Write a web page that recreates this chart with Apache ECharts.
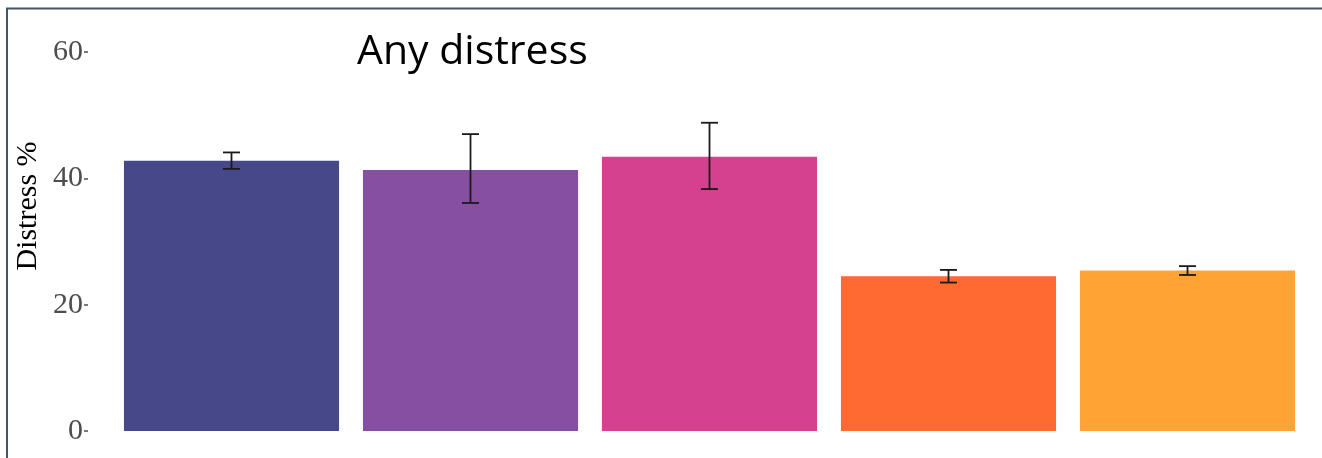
<!DOCTYPE html>
<html>
<head>
<meta charset="utf-8">
<title>Any distress</title>
<script src="https://cdn.jsdelivr.net/npm/echarts@6/dist/echarts.min.js"></script>
<style>
  html, body { margin: 0; padding: 0; background: #ffffff; }
  #chart { width: 1322px; height: 458px; }
</style>
</head>
<body>
<div id="chart"></div>
<script>
// Groups (unlabelled on the x axis), their distress share and 95% interval
var groups = ['A', 'B', 'C', 'D', 'E'];
var distress = [42.8, 41.3, 43.4, 24.5, 25.4];
var ciLow = [41.5, 36.1, 38.3, 23.5, 24.7];
var ciHigh = [44.1, 47.0, 48.8, 25.5, 26.1];
var barColors = ['#46488A', '#874FA1', '#D6418F', '#FF6A33', '#FFA334'];
var yTicks = [0, 20, 40, 60];
var yTitle = 'Distress %';

var chart = echarts.init(document.getElementById('chart'), null, { renderer: 'canvas' });

var barData = distress.map(function (v, i) {
  return { value: v, itemStyle: { color: barColors[i] } };
});
var errData = groups.map(function (g, i) { return [i, ciLow[i], ciHigh[i]]; });

chart.setOption({
  animation: false,
  backgroundColor: '#ffffff',
  title: {
    text: 'Any distress',
    left: 352,
    top: 27,
    textStyle: { fontFamily: 'Open Sans', fontWeight: 'normal', fontSize: 41, color: '#000000' }
  },
  grid: { left: 112, right: 15, top: 52, bottom: 27, containLabel: false, outerBoundsMode: 'none' },
  xAxis: {
    type: 'category',
    data: groups,
    axisLine: { show: false },
    axisTick: { show: false },
    axisLabel: { show: false },
    splitLine: { show: false }
  },
  yAxis: {
    type: 'value',
    min: yTicks[0],
    max: yTicks[yTicks.length - 1],
    interval: 20,
    offset: 24,
    axisLine: { show: false },
    axisTick: { show: true, length: 4, lineStyle: { color: '#4D4D4D', width: 1.5 } },
    axisLabel: {
      margin: 5,
      fontFamily: 'Liberation Serif',
      fontSize: 30,
      color: '#4D4D4D'
    },
    splitLine: { show: false }
  },
  series: [
    {
      type: 'bar',
      data: barData,
      barCategoryGap: '10%',
      itemStyle: { borderWidth: 0 },
      z: 2
    },
    {
      type: 'custom',
      data: errData,
      z: 3,
      renderItem: function (params, api) {
        var x = api.value(0);
        var lo = api.coord([x, api.value(1)]);
        var hi = api.coord([x, api.value(2)]);
        var cap = 8.5;
        var style = { stroke: '#1a1a1a', lineWidth: 1.8 };
        return {
          type: 'group',
          children: [
            { type: 'line', shape: { x1: hi[0], y1: hi[1], x2: lo[0], y2: lo[1] }, style: style },
            { type: 'line', shape: { x1: hi[0] - cap, y1: hi[1], x2: hi[0] + cap, y2: hi[1] }, style: style },
            { type: 'line', shape: { x1: lo[0] - cap, y1: lo[1], x2: lo[0] + cap, y2: lo[1] }, style: style }
          ]
        };
      }
    }
  ],
  graphic: [
    // frame lines along the top and left edge
    { type: 'line', shape: { x1: 6, y1: 8.5, x2: 1322, y2: 8.5 }, style: { stroke: '#44546A', lineWidth: 2 } },
    { type: 'line', shape: { x1: 7, y1: 8, x2: 7, y2: 458 }, style: { stroke: '#44546A', lineWidth: 2 } },
    // y-axis title, rotated
    {
      type: 'text',
      x: 28,
      y: 206,
      rotation: Math.PI / 2,
      style: {
        text: yTitle,
        fontFamily: 'Liberation Serif',
        fontSize: 30,
        fill: '#000000',
        align: 'center',
        verticalAlign: 'middle'
      }
    }
  ]
});
</script>
</body>
</html>
